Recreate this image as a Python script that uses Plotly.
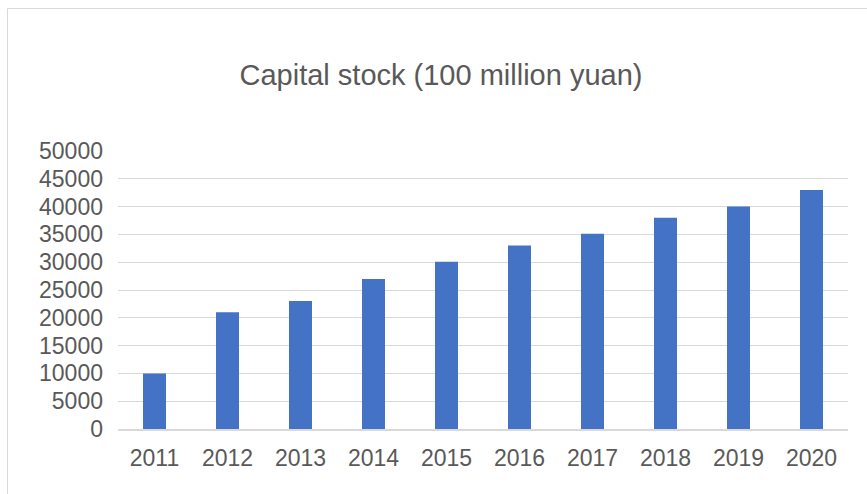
import plotly.graph_objects as go

years = ["2011", "2012", "2013", "2014", "2015", "2016", "2017", "2018", "2019", "2020"]
capital_stock = [10000, 21000, 23000, 27000, 30100, 33000, 35100, 38000, 40000, 43000]
y_ticks = [0, 5000, 10000, 15000, 20000, 25000, 30000, 35000, 40000, 45000, 50000]
y_tick_labels = [str(v) for v in y_ticks]

W, H = 867, 494
L, R, T, B = 118, 19, 151, 65
pw, ph = W - L - R, H - T - B

def px_x(p):
    return (p - L) / pw

def px_y(p):
    return (H - B - p) / ph

fig = go.Figure()
fig.add_trace(go.Bar(x=years, y=capital_stock, marker_color="#4472C4",
                     marker_line_width=0))

font = "Liberation Sans, Arial, sans-serif"
fig.update_layout(
    width=W, height=H,
    margin=dict(l=L, r=R, t=T, b=B, pad=0),
    paper_bgcolor="white", plot_bgcolor="white",
    bargap=0.685,
    showlegend=False,
    title=dict(text="Capital stock (100 million yuan)", x=441 / W, xanchor="center",
               y=1 - 75 / H, yanchor="middle", xref="container", yref="container",
               font=dict(family=font, size=29, color="#595959")),
    font=dict(family=font, color="#595959"),
    xaxis=dict(showgrid=False, showline=True, linecolor="#d9d9d9", linewidth=2,
               ticks="", tickfont=dict(size=23, color="#595959"),
               ticklabelstandoff=7),
    yaxis=dict(range=[0, 50000], tickvals=y_ticks, ticktext=y_tick_labels,
               showgrid=True, gridcolor="#d9d9d9",
               gridwidth=1, zeroline=False, showline=False, ticks="",
               tickfont=dict(size=23, color="#595959"), ticklabelstandoff=14),
    shapes=[dict(type="rect", xref="paper", yref="paper",
                 x0=px_x(7.5), x1=px_x(900), y0=px_y(530), y1=px_y(8.5),
                 line=dict(color="#d9d9d9", width=1), fillcolor="rgba(0,0,0,0)",
                 layer="below")],
)

fig.write_html("out.html", config={"displayModeBar": False},
               post_script="document.body.style.margin='0';document.body.style.overflow='hidden';")
